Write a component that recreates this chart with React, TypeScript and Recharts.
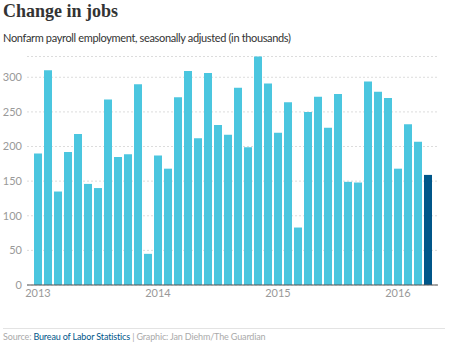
import { BarChart, Bar, XAxis, YAxis, CartesianGrid, Cell } from "recharts";

// monthly change in nonfarm payrolls, Jan 2013 – Apr 2016 (thousands)
const months = [
  "2013-01", "2013-02", "2013-03", "2013-04", "2013-05", "2013-06",
  "2013-07", "2013-08", "2013-09", "2013-10", "2013-11", "2013-12",
  "2014-01", "2014-02", "2014-03", "2014-04", "2014-05", "2014-06",
  "2014-07", "2014-08", "2014-09", "2014-10", "2014-11", "2014-12",
  "2015-01", "2015-02", "2015-03", "2015-04", "2015-05", "2015-06",
  "2015-07", "2015-08", "2015-09", "2015-10", "2015-11", "2015-12",
  "2016-01", "2016-02", "2016-03", "2016-04",
];
const jobs = [
  190, 310, 135, 192, 218, 146, 140, 268, 185, 189, 290, 45,
  187, 168, 271, 309, 212, 306, 231, 217, 285, 199, 330, 291,
  220, 264, 83, 250, 272, 227, 276, 149, 148, 294, 279, 270,
  168, 232, 207, 159,
];
const yTicks = [0, 50, 100, 150, 200, 250, 300];

const data = months.map((m, i) => ({ month: m, jobs: jobs[i] }));

const BAR = "#4bc6df";
const LATEST = "#005689";

export default function App() {
  return (
    <div
      style={{
        position: "relative",
        width: 450,
        height: 345,
        background: "#fff",
        fontFamily: "Lato, 'Open Sans', sans-serif",
      }}
    >
      <style>{"body{margin:0}"}</style>
      <div
        style={{
          position: "absolute",
          left: 3,
          top: 0,
          fontFamily: "'Liberation Serif', serif",
          fontWeight: 700,
          fontSize: 18,
          color: "#333",
          lineHeight: "22px",
        }}
      >
        Change in jobs
      </div>
      <div
        style={{
          position: "absolute",
          left: 3,
          top: 30,
          fontSize: 11,
          letterSpacing: -0.35,
          color: "#333",
          lineHeight: "16px",
        }}
      >
        Nonfarm payroll employment, seasonally adjusted (in thousands)
      </div>
      <div style={{ position: "absolute", left: 0, top: 0 }}>
        <BarChart
          width={450}
          height={300}
          data={data}
          margin={{ top: 56.5, right: 12, bottom: 0, left: 0 }}
          barSize={8}
        >
          <CartesianGrid
            vertical={false}
            stroke="#dcdcdc"
            strokeDasharray="2 2"
          />
          <XAxis
            dataKey="month"
            interval={11}
            height={15}
            padding={{ left: 6, right: 5 }}
            tickLine={false}
            tickSize={0}
            tickMargin={4}
            stroke="#555"
            tick={{ fill: "#999", fontSize: 11 }}
            tickFormatter={(m: string) => m.slice(0, 4)}
          />
          <YAxis
            domain={[0, 330]}
            ticks={yTicks}
            width={27}
            axisLine={false}
            tickLine={false}
            tickSize={0}
            tickMargin={5}
            tick={{ fill: "#999", fontSize: 11 }}
          />
          <Bar dataKey="jobs" isAnimationActive={false}>
            {data.map((d, i) => (
              <Cell key={d.month} fill={i === data.length - 1 ? LATEST : BAR} />
            ))}
          </Bar>
        </BarChart>
      </div>
      <div
        style={{
          position: "absolute",
          left: 3,
          right: 5,
          top: 328,
          borderTop: "1px solid #e3e3e3",
        }}
      />
      <div
        style={{
          position: "absolute",
          left: 3,
          top: 330,
          fontSize: 9,
          letterSpacing: -0.15,
          lineHeight: "13px",
          color: "#aaa",
        }}
      >
        Source: <span style={{ color: LATEST }}>Bureau of Labor Statistics</span>{" "}
        | Graphic: Jan Diehm/The Guardian
      </div>
    </div>
  );
}
